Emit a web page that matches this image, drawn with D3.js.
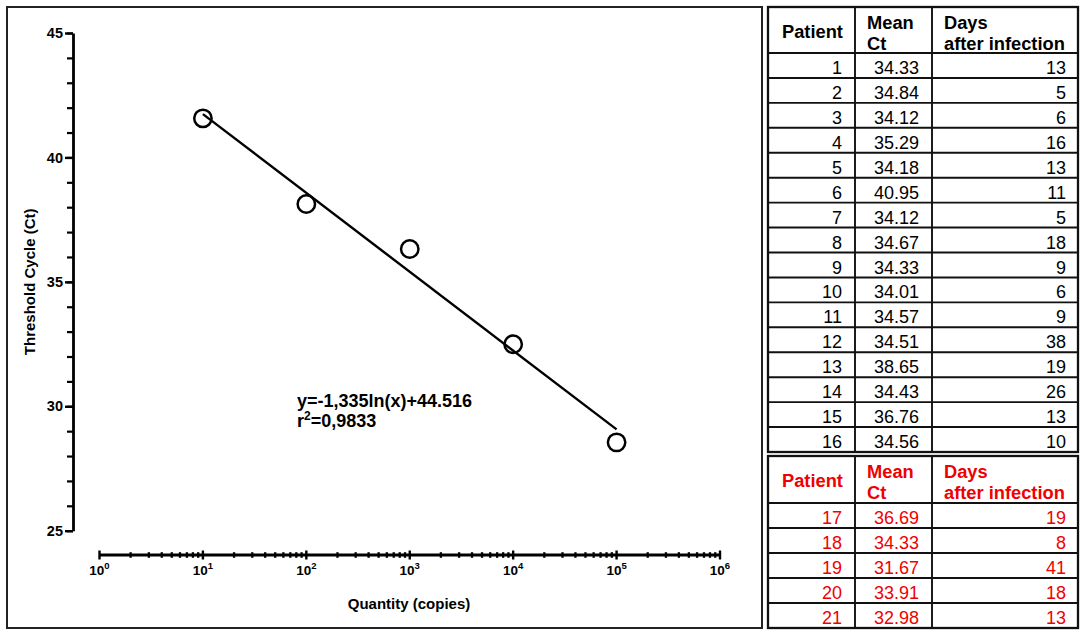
<!DOCTYPE html>
<html>
<head>
<meta charset="utf-8">
<script src="https://cdn.jsdelivr.net/npm/d3@7"></script>
<style>
  body { margin: 0; background: #fff; }
  svg { display: block; font-family: "Liberation Sans", Arial, sans-serif; }
</style>
</head>
<body>
<script>
// Standard curve points (quantity in copies vs threshold cycle)
const standardQty = [1e1, 1e2, 1e3, 1e4, 1e5];
const standardCt = [41.57, 38.13, 36.32, 32.49, 28.55];

// Fitted line end points as drawn on the figure
const fitQty = [1e1, 1e5];
const fitCt = [41.74, 29.07];

const yMajorTicks = [25, 30, 35, 40, 45];
const xDecades = [0, 1, 2, 3, 4, 5, 6];

const equationText = "y=-1,335ln(x)+44.516";
const r2Value = "=0,9833";

// Table values
const headerLines = [["Patient"], ["Mean", "Ct"], ["Days", "after infection"]];
const patientsA = [1, 2, 3, 4, 5, 6, 7, 8, 9, 10, 11, 12, 13, 14, 15, 16];
const meanCtA = ["34.33", "34.84", "34.12", "35.29", "34.18", "40.95", "34.12", "34.67",
                 "34.33", "34.01", "34.57", "34.51", "38.65", "34.43", "36.76", "34.56"];
const daysA = [13, 5, 6, 16, 13, 11, 5, 18, 9, 6, 9, 38, 19, 26, 13, 10];
const patientsB = [17, 18, 19, 20, 21];
const meanCtB = ["36.69", "34.33", "31.67", "33.91", "32.98"];
const daysB = [19, 8, 41, 18, 13];

const width = 1084, height = 634;
const svg = d3.select("body").append("svg")
    .attr("width", width)
    .attr("height", height);

// Chart panel frame
svg.append("rect")
    .attr("x", 7).attr("y", 7)
    .attr("width", 755).attr("height", 621)
    .attr("fill", "none")
    .attr("stroke", "#222")
    .attr("stroke-width", 2);

// Scales
const x = d3.scaleLog().domain([1, 1e6]).range([99.5, 720]);
const y = d3.scaleLinear().domain([25, 45]).range([530.7, 33]);
const xAxisY = 555;
const yAxisX = 73;

// Y axis: minor ticks first, then major ticks with labels
const yMinor = svg.append("g")
    .attr("transform", `translate(${yAxisX},0)`)
    .call(d3.axisLeft(y).tickValues(d3.range(25, 46)).tickSize(6).tickFormat(""));
yMinor.select(".domain").remove();
yMinor.selectAll(".tick line").attr("stroke-width", 2.2);

const yMajor = svg.append("g")
    .attr("transform", `translate(${yAxisX},0)`)
    .call(d3.axisLeft(y).tickValues(yMajorTicks).tickSize(8).tickSizeOuter(0).tickPadding(2));
yMajor.select(".domain").attr("stroke-width", 2.8);
yMajor.selectAll(".tick line").attr("stroke-width", 2.4);
yMajor.selectAll(".tick text")
    .attr("font-size", 14.5)
    .attr("font-weight", "bold")
    .attr("font-family", "Liberation Sans, Arial, sans-serif")
    .attr("fill", "#000");

svg.append("text")
    .attr("transform", `translate(35,${(y(25) + y(45)) / 2}) rotate(-90)`)
    .attr("text-anchor", "middle")
    .attr("font-size", 15)
    .attr("font-weight", "bold")
    .text("Threshold Cycle (Ct)");

// X axis: ticks cross the axis line on both sides
const xAxis = svg.append("g").attr("class", "x-axis");
xAxis.append("line")
    .attr("x1", x(1)).attr("x2", x(1e6))
    .attr("y1", xAxisY).attr("y2", xAxisY)
    .attr("stroke", "#000")
    .attr("stroke-width", 2.8);

const allTicks = x.ticks();
const isDecade = v => Math.abs(Math.log10(v) - Math.round(Math.log10(v))) < 1e-9;

xAxis.selectAll(".minor")
    .data(allTicks.filter(v => !isDecade(v)))
    .join("line")
    .attr("class", "minor")
    .attr("x1", d => x(d)).attr("x2", d => x(d))
    .attr("y1", xAxisY - 2.8).attr("y2", xAxisY + 2.8)
    .attr("stroke", "#000")
    .attr("stroke-width", 2.3);

xAxis.selectAll(".major")
    .data(xDecades)
    .join("line")
    .attr("class", "major")
    .attr("x1", d => x(Math.pow(10, d))).attr("x2", d => x(Math.pow(10, d)))
    .attr("y1", xAxisY - 4.5).attr("y2", xAxisY + 4.5)
    .attr("stroke", "#000")
    .attr("stroke-width", 2.4);

const xLabels = xAxis.selectAll(".xlabel")
    .data(xDecades)
    .join("text")
    .attr("class", "xlabel")
    .attr("x", d => x(Math.pow(10, d)))
    .attr("y", 575)
    .attr("text-anchor", "middle")
    .attr("font-size", 13.5)
    .attr("font-weight", "bold");
xLabels.append("tspan").text("10");
xLabels.append("tspan")
    .attr("font-size", 9.5)
    .attr("dy", -6)
    .text(d => d);

svg.append("text")
    .attr("x", 409)
    .attr("y", 609)
    .attr("text-anchor", "middle")
    .attr("font-size", 15)
    .attr("font-weight", "bold")
    .text("Quantity (copies)");

// Fitted line
svg.append("line")
    .attr("x1", x(fitQty[0])).attr("y1", y(fitCt[0]))
    .attr("x2", x(fitQty[1])).attr("y2", y(fitCt[1]))
    .attr("stroke", "#000")
    .attr("stroke-width", 2.4);

// Standard points
svg.selectAll(".pt")
    .data(standardQty.map((q, i) => ({ q, ct: standardCt[i] })))
    .join("circle")
    .attr("class", "pt")
    .attr("cx", d => x(d.q))
    .attr("cy", d => y(d.ct))
    .attr("r", 8.7)
    .attr("fill", "none")
    .attr("stroke", "#000")
    .attr("stroke-width", 2.5);

// Equation and r squared
svg.append("text")
    .attr("x", 297).attr("y", 406.5)
    .attr("font-size", 18)
    .attr("font-weight", "bold")
    .text(equationText);

const r2 = svg.append("text")
    .attr("x", 297).attr("y", 427)
    .attr("font-size", 18)
    .attr("font-weight", "bold");
r2.append("tspan").text("r");
r2.append("tspan").attr("font-size", 12).attr("dy", -7).text("2");
r2.append("tspan").attr("dy", 7).text(r2Value);

// Tables
const colEdges = [768, 855, 932, 1078];
const colRight = [842, 919, 1066];

function drawTable(top, headerH, rowH, patients, meanCt, days, color) {
    const g = svg.append("g");
    const nRows = patients.length;
    const bottom = top + headerH + rowH * nRows;
    const rowY = d3.scaleLinear().domain([0, nRows]).range([top + headerH, bottom]);

    // row lines
    g.selectAll(".hline")
        .data(d3.range(0, nRows))
        .join("line")
        .attr("x1", colEdges[0]).attr("x2", colEdges[3])
        .attr("y1", d => rowY(d)).attr("y2", d => rowY(d))
        .attr("stroke", "#111")
        .attr("stroke-width", 1.9);

    // column lines
    g.selectAll(".vline")
        .data(colEdges.slice(1, 3))
        .join("line")
        .attr("x1", d => d).attr("x2", d => d)
        .attr("y1", top).attr("y2", bottom)
        .attr("stroke", "#111")
        .attr("stroke-width", 1.9);

    g.append("rect")
        .attr("x", colEdges[0]).attr("y", top)
        .attr("width", colEdges[3] - colEdges[0])
        .attr("height", bottom - top)
        .attr("fill", "none")
        .attr("stroke", "#111")
        .attr("stroke-width", 2.3);

    // headers
    headerLines.forEach((lines, c) => {
        const t = g.append("text")
            .attr("font-size", 18.3)
            .attr("font-weight", "bold")
            .attr("fill", color);
        if (lines.length === 1) {
            t.attr("x", colEdges[c] + 14).attr("y", top + 30.5).text(lines[0]);
        } else {
            lines.forEach((s, k) => {
                t.append("tspan")
                    .attr("x", colEdges[c] + 12)
                    .attr("y", top + 21.5 + k * 21.5)
                    .text(s);
            });
        }
    });

    // body cells
    const rows = patients.map((p, i) => [p, meanCt[i], days[i]]);
    rows.forEach((r, i) => {
        r.forEach((v, c) => {
            g.append("text")
                .attr("x", colRight[c])
                .attr("y", rowY(i) + 21)
                .attr("text-anchor", "end")
                .attr("font-size", 18)
                .attr("fill", color)
                .text(v);
        });
    });
}

drawTable(7, 46, (452 - 53) / 16, patientsA, meanCtA, daysA, "#000");
drawTable(456, 47, 25, patientsB, meanCtB, daysB, "#f00000");
</script>
</body>
</html>
